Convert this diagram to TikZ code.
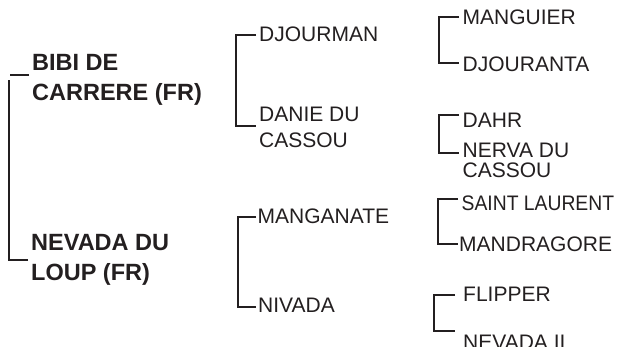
\documentclass[tikz,border=0pt]{standalone}
\usepackage{fontspec}
\setmainfont{Liberation Sans}
\definecolor{ink}{HTML}{231F20}
\begin{document}
\begin{tikzpicture}[x=1pt,y=-1pt,
  sire/.style={anchor=west,inner ysep=0pt,inner xsep=3pt,align=left,text depth=0pt,
    font=\fontsize{23.5}{30}\selectfont\bfseries,text=ink},
  anc/.style={anchor=west,inner ysep=0pt,inner xsep=3pt,align=left,text depth=0pt,
    font=\fontsize{21}{26}\selectfont,text=ink},
  brk/.style={draw=ink,line width=2pt}]
\useasboundingbox (0,0) rectangle (630,346);
\clip (0,0) rectangle (630,346);
% generation 1
\node[sire] (bibi) at (29,77) {BIBI DE\\CARRERE (FR)};
\node[sire] (nevd) at (28,257) {NEVADA DU\\LOUP (FR)};
% generation 2
\node[anc] (djm) at (256,34.5) {DJOURMAN};
\node[anc] (dan) at (256,127) {DANIE DU\\CASSOU};
\node[anc,inner xsep=1.5pt] (mgn) at (256,216) {MANGANATE};
\node[anc,inner xsep=2pt] (niv) at (256,305.5) {NIVADA};
% generation 3
\node[anc,inner xsep=3.5pt] (mgr) at (459,17.5) {MANGUIER};
\node[anc,inner xsep=3.5pt] (dja) at (459,64.5) {DJOURANTA};
\node[anc,inner xsep=3.5pt] (dhr) at (459,120) {DAHR};
\node[anc,inner xsep=3.5pt,font=\fontsize{21}{20}\selectfont] (nrv) at (459,160) {NERVA DU\\CASSOU};
\node[anc,inner xsep=3.5pt] (stl) at (458,203) {\scalebox{0.92}[1]{SAINT LAURENT}};
\node[anc,inner xsep=1pt] (mdr) at (458,244) {MANDRAGORE};
\node[anc,inner xsep=8pt] (flp) at (455,294) {FLIPPER};
\node[anc,inner xsep=8pt] (nv2) at (455,342.5) {NEVADA II};
% brackets
\draw[brk] ([shift={(0,-2)}]bibi.west) -- ++(-19,0);
\draw[brk] ([shift={(0,3)}]nevd.west) -- ++(-19,0) -- ++(0,-180);
\draw[brk] ([shift={(0,0.5)}]djm.west) -- ++(-20,0) |- ([shift={(0,-1)}]dan.west);
\draw[brk] ([shift={(0,1)}]mgn.west) -- ++(-18,0) |- ([shift={(0,1.5)}]niv.west);
\draw[brk] ([shift={(0,-0.5)}]mgr.west) -- ++(-20,0) |- ([shift={(0,-1.5)}]dja.west);
\draw[brk] ([shift={(0,-5)}]dhr.west) -- ++(-20,0) |- ([shift={(0,-7)}]nrv.west);
\draw[brk] ([shift={(0,-4)}]stl.west) -- ++(-20,0) |- (mdr.west);
\draw[brk] ([shift={(0,1)}]flp.west) -- ++(-21,0) |- ([shift={(0,-11.5)}]nv2.west);
\end{tikzpicture}
\end{document}
